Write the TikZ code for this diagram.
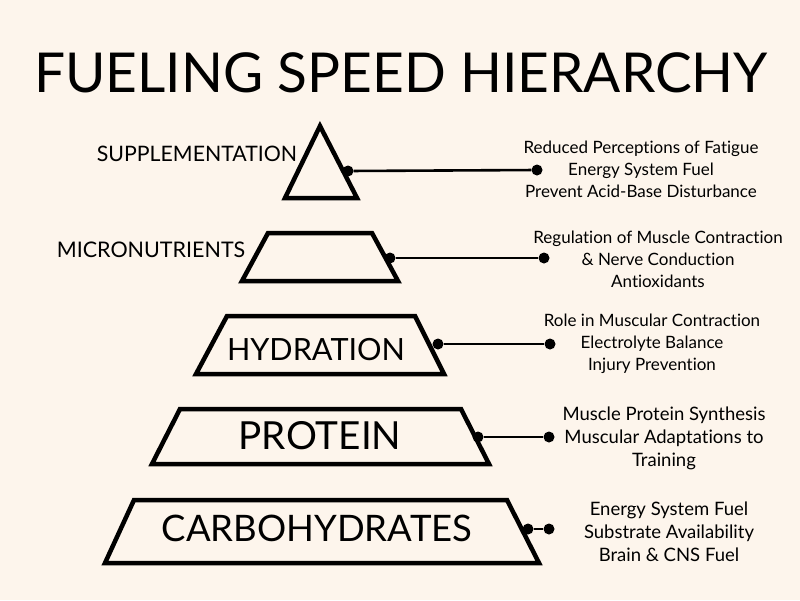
\documentclass[tikz,border=0pt]{standalone}
\usepackage{fontspec}
\setmainfont{Lato}[Ligatures=NoCommon]
\usetikzlibrary{
  positioning,
  calc
}
\definecolor{cream}{RGB}{253,245,236}
\tikzset{
  tier/.style={
    draw=black,
    line width=4.5pt,
    line join=miter,
  },
  tiertext/.style={
    inner sep=0pt,
    anchor=base,
  },
  dot/.style={
    circle,
    fill=black,
    inner sep=0pt,
    minimum size=11pt,
  },
  link/.style={
    draw=black,
    line width=2.6pt,
  },
  notes/.style={
    font=\fontsize{17}{22}\selectfont,
    align=center,
    inner sep=0pt,
  },
  bignotes/.style={
    notes,
    font=\fontsize{18.5}{23}\selectfont,
  },
}

\begin{document}
\begin{tikzpicture}[x=1pt,y=-1pt]
		\fill[cream] (0,0) rectangle (800,600);
		\useasboundingbox (0,0) rectangle (800,600);

		% title
		\node[tiertext, font=\fontsize{55}{60}\selectfont] (title) at (401,92) {FUELING SPEED HIERARCHY};

		% tiers
		\draw[tier] (320,126) -- (357,198) -- (285,198) -- cycle;
		\draw[tier] (268,233) -- (372,233) -- (398,281) -- (242,281) -- cycle;
		\draw[tier] (227,316) -- (415,316) -- (444,374) -- (196,374) -- cycle;
		\draw[tier] (180,409) -- (461,409) -- (489,464) -- (152,464) -- cycle;
		\draw[tier] (134,500) -- (507,500) -- (539,563) -- (105,563) -- cycle;

		\node[tiertext, font=\fontsize{21.3}{26}\selectfont] (supp) at (197,161) {SUPPLEMENTATION};
		\node[tiertext, font=\fontsize{21.5}{26}\selectfont] (micro) at (151,257) {MICRONUTRIENTS};
		\node[tiertext, font=\fontsize{30.6}{36}\selectfont] (hyd) at (316,360) {HYDRATION};
		\node[tiertext, font=\fontsize{38.7}{42}\selectfont] (prot) at (320,449) {PROTEIN};
		\node[tiertext, font=\fontsize{36.5}{42}\selectfont] (carb) at (317,541) {CARBOHYDRATES};

		% dots and links
		\node[dot] (supp_a) at (348,171) {};
		\node[dot] (supp_b) at (537,170) {};
		\draw[link] (supp_a) -- (supp_b);
		\node[dot] (micro_a) at (390,258) {};
		\node[dot] (micro_b) at (544,258) {};
		\draw[link] (micro_a) -- (micro_b);
		\node[dot] (hyd_a) at (438,344) {};
		\node[dot] (hyd_b) at (550,344) {};
		\draw[link] (hyd_a) -- (hyd_b);
		\node[dot] (prot_a) at (478,437) {};
		\node[dot] (prot_b) at (549,437) {};
		\draw[link] (prot_a) -- (prot_b);
		\node[dot] (carb_a) at (528,529) {};
		\node[dot] (carb_b) at (549,529) {};
		\draw[link] (carb_a) -- (carb_b);

		% notes
		\node[notes] (supp_n) at (641,169) {Reduced Perceptions of Fatigue\\Energy System Fuel\\Prevent Acid-Base Disturbance};
		\node[notes] (micro_n) at (658,259) {Regulation of Muscle Contraction\\\& Nerve Conduction\\Antioxidants};
		\node[notes] (hyd_n) at (652,344) {Role in Muscular Contraction\\Electrolyte Balance\\Injury Prevention};
		\node[bignotes] (prot_n) at (664,438) {Muscle Protein Synthesis\\Muscular Adaptations to\\Training};
		\node[bignotes] (carb_n) at (669,532) {Energy System Fuel\\Substrate Availability\\Brain \& CNS Fuel};

	\end{tikzpicture}
\end{document}
